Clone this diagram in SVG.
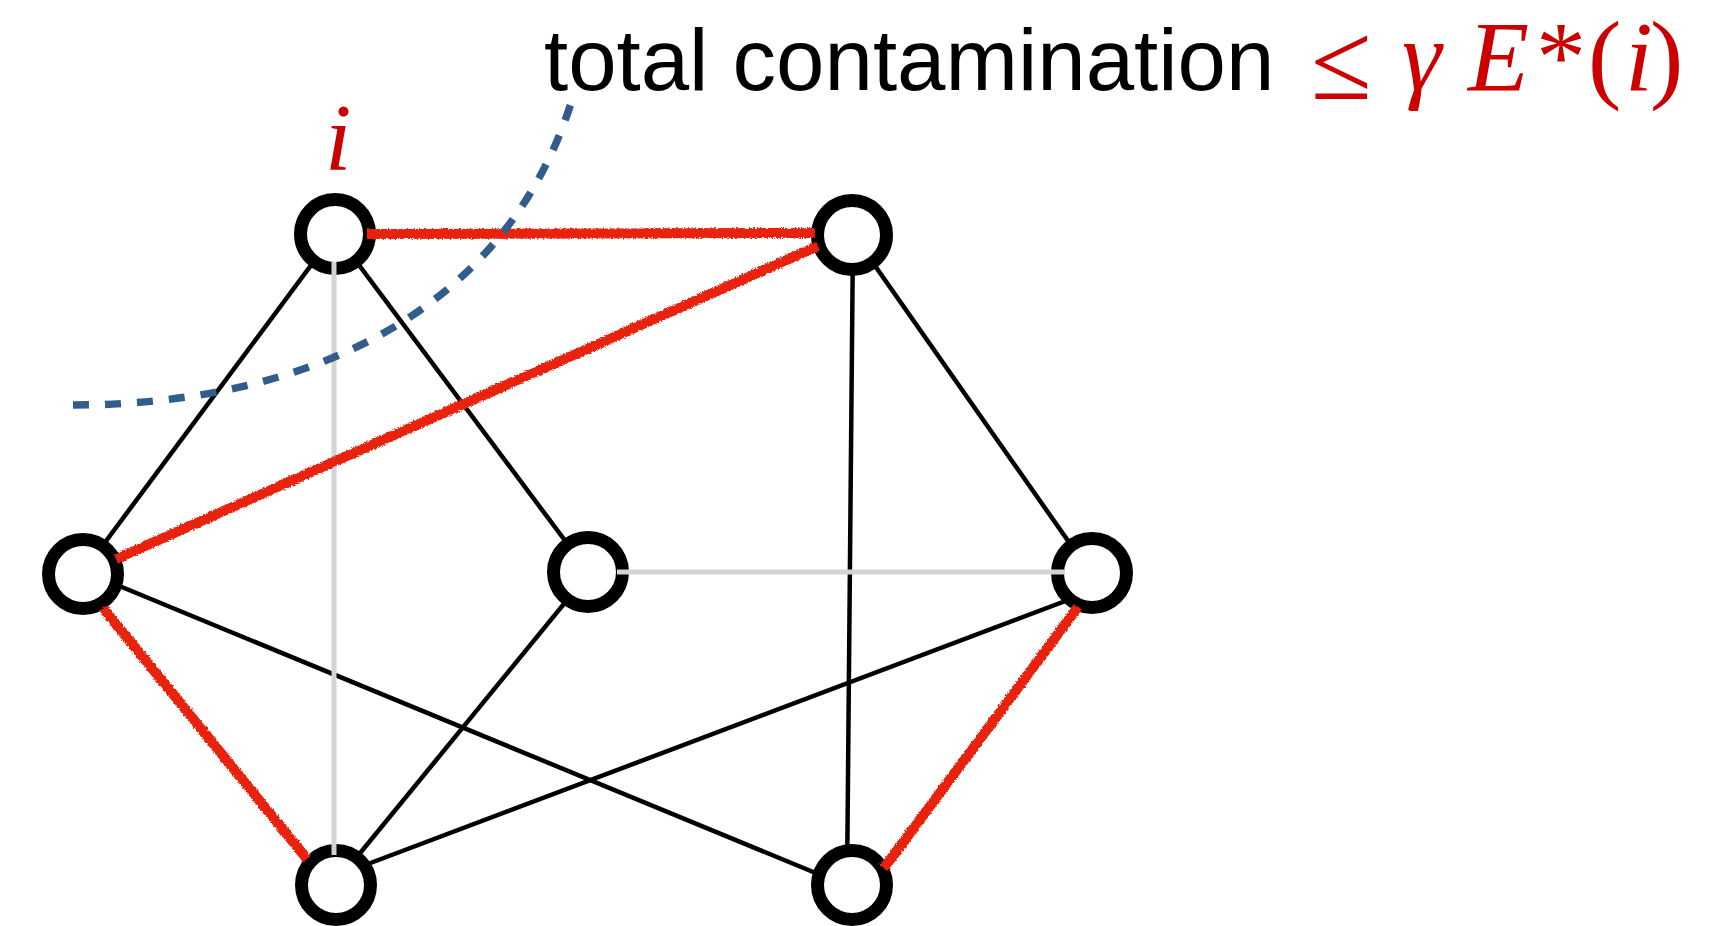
<svg xmlns="http://www.w3.org/2000/svg" width="1731" height="926" viewBox="0 0 1731 926">
<style>
.edge{stroke:#000;stroke-width:4.5;fill:none}
.gray{stroke:#d4d4d4;stroke-width:5;fill:none}
.red{stroke:#e8210f;stroke-width:10;fill:none;stroke-linecap:butt}
.node{fill:#fff;stroke:#000;stroke-width:13}
.lbl{font-family:"Liberation Sans",Arial,sans-serif;font-size:87px;fill:#000}
.math{font-family:"Liberation Serif","Times New Roman",serif;font-size:100px;fill:#cc0000}
.it{font-style:italic}
</style>
<defs>
<filter id="rough" filterUnits="userSpaceOnUse" x="0" y="0" width="1731" height="926">
<feTurbulence type="fractalNoise" baseFrequency="0.6" numOctaves="2" seed="3" result="n"/>
<feDisplacementMap in="SourceGraphic" in2="n" scale="4" xChannelSelector="R" yChannelSelector="G"/>
</filter>
</defs>
<rect width="1731" height="926" fill="#fff"/>
<g id="connectors">
<line class="edge" x1="335" y1="233" x2="83" y2="572"/>
<line class="edge" x1="335" y1="233" x2="590" y2="574"/>
<line class="edge" x1="853" y1="235" x2="847" y2="885"/>
<line class="edge" x1="852" y1="233" x2="1092" y2="575"/>
<line class="edge" x1="83" y1="571" x2="852" y2="888"/>
<line class="edge" x1="590" y1="572" x2="334" y2="885"/>
<line class="edge" x1="1092" y1="591" x2="336" y2="876"/>
</g>
<g id="n1"><circle class="node" cx="335" cy="234" r="34.5"/></g>
<g id="n2"><circle class="node" cx="852" cy="235" r="34.5"/></g>
<g id="n3"><circle class="node" cx="83" cy="574" r="34.5"/></g>
<g id="n4"><circle class="node" cx="588" cy="572" r="34.5"/></g>
<g id="n5"><circle class="node" cx="1092" cy="573" r="34.5"/></g>
<g id="n6"><circle class="node" cx="336" cy="885" r="34.5"/></g>
<g id="n7"><circle class="node" cx="852" cy="885" r="34.5"/></g>
<g id="connectors-top">
<line class="gray" x1="334" y1="262" x2="334" y2="855"/>
<line class="gray" x1="617" y1="572" x2="1065" y2="572"/>
<g filter="url(#rough)">
<line class="red" x1="367" y1="234" x2="815" y2="233"/>
<line class="red" x1="818" y1="246" x2="116" y2="559"/>
<line class="red" x1="103" y1="608" x2="307" y2="859"/>
<line class="red" x1="1078" y1="607" x2="884" y2="868"/>
</g>
<path d="M73,405 C280,405 500,330 572,100" fill="none" stroke="#325c8c" stroke-width="7.5" stroke-dasharray="16,16"/>
</g>
<g id="labels">
<text class="lbl" x="544" y="90">total contamination</text>
<text class="math" x="1311" y="99" style="font-size:111px">≤</text>
<text class="math it" x="1402" y="90">γ</text>
<text class="math it" x="1468" y="90">E</text>
<text class="math" x="1536" y="90">*</text>
<text class="math" x="1588" y="90">(</text>
<text class="math it" x="1625" y="90">i</text>
<text class="math" x="1650" y="90">)</text>
<text class="math it" x="325" y="170" style="font-size:95px">i</text>
</g>
</svg>
